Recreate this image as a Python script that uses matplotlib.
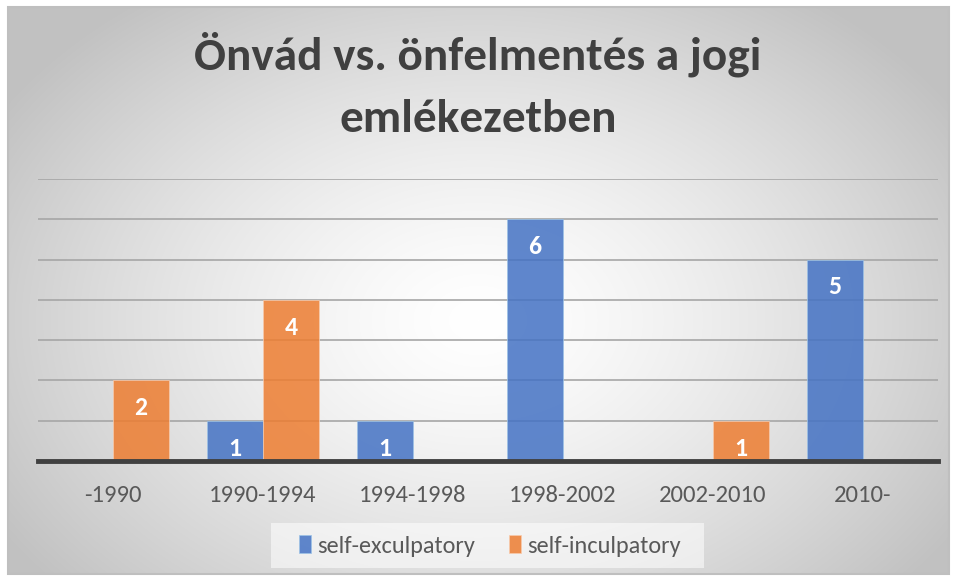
import numpy as np
import matplotlib.pyplot as plt
from matplotlib.patches import Rectangle

categories = ['-1990', '1990-1994', '1994-1998', '1998-2002', '2002-2010', '2010-']
exculpatory = [0, 1, 1, 6, 0, 5]
inculpatory = [2, 4, 0, 0, 1, 0]
series_names = ['self-exculpatory', 'self-inculpatory']
title = 'Önvád vs. önfelmentés a jogi\nemlékezetben'

blue = '#4472c4'
orange = '#ed7d31'
font = ['Carlito', 'DejaVu Sans']

fig = plt.figure(figsize=(9.56, 5.79), dpi=100)

# radial gradient background
bg = fig.add_axes([0, 0, 1, 1], zorder=-10)
yy, xx = np.mgrid[0:579, 0:956]
r = np.sqrt(((xx - 478) / 560.0) ** 2 + ((yy - 320) / 400.0) ** 2)
shade = 1.0 - 0.24 * np.clip(r, 0, 1) ** 1.4
bg.imshow(np.dstack([shade, shade, shade]), extent=[0, 956, 579, 0], aspect='auto')
# white margin outside the chart frame
bg.add_patch(Rectangle((0, 0), 956, 7, color='white', lw=0))
bg.add_patch(Rectangle((0, 0), 8, 579, color='white', lw=0))
bg.add_patch(Rectangle((949, 0), 7, 579, color='white', lw=0))
bg.add_patch(Rectangle((0, 574), 956, 5, color='white', lw=0))
bg.add_patch(Rectangle((8, 7), 941, 567, fill=False, edgecolor='#bfbfbf', lw=1.5))
# legend box
bg.add_patch(Rectangle((271, 523), 433, 45, color='white', alpha=0.55, lw=0))
bg.set_xlim(0, 956)
bg.set_ylim(579, 0)
bg.axis('off')

ax = fig.add_axes([38 / 956, 1 - 461 / 579, 900 / 956, 282 / 579])
ax.patch.set_alpha(0)
x = np.arange(len(categories))
w = 0.373
b1 = ax.bar(x - w / 2, exculpatory, w, color=blue, alpha=0.85, label=series_names[0],
            edgecolor='#9dc3e6', linewidth=0.6, zorder=3)
b2 = ax.bar(x + w / 2, inculpatory, w, color=orange, alpha=0.85, label=series_names[1],
            edgecolor='#f8cbad', linewidth=0.6, zorder=3)

for bars, vals in ((b1, exculpatory), (b2, inculpatory)):
    for rect, v in zip(bars, vals):
        if v > 0:
            ax.text(rect.get_x() + rect.get_width() / 2, v - 0.68, str(v),
                    ha='center', va='center', color='white', fontsize=18.5,
                    fontweight='bold', family=font, zorder=4)

ax.set_xlim(-0.5, len(categories) - 0.5)
ax.set_ylim(0, 7)
ax.set_yticks(range(0, 8))
ax.yaxis.grid(True, color='#a6a6a6', lw=1.2, zorder=0)
ax.tick_params(axis='y', left=False, labelleft=False)
ax.tick_params(axis='x', bottom=False, pad=14, labelsize=17.7, labelcolor='#595959')
ax.set_xticks(x)
ax.set_xticklabels(categories, family=font)
for s in ['top', 'right', 'left']:
    ax.spines[s].set_visible(False)
ax.spines['bottom'].set_color('#404040')
ax.spines['bottom'].set_linewidth(3.5)
ax.spines['bottom'].set_zorder(5)

fig.text(0.5, 1 - 85 / 579, title, ha='center', va='center', fontsize=34,
         fontweight='bold', color='#404040', family=font, linespacing=1.68)

leg = fig.legend(loc='center', bbox_to_anchor=(490 / 956, 1 - 546 / 579), ncol=2,
                 frameon=False, prop={'family': font, 'size': 17.5},
                 handlelength=0.5, handleheight=0.7, handletextpad=0.25,
                 columnspacing=1.4)
for t in leg.get_texts():
    t.set_color('#595959')

fig.savefig('out.png', dpi=100)
